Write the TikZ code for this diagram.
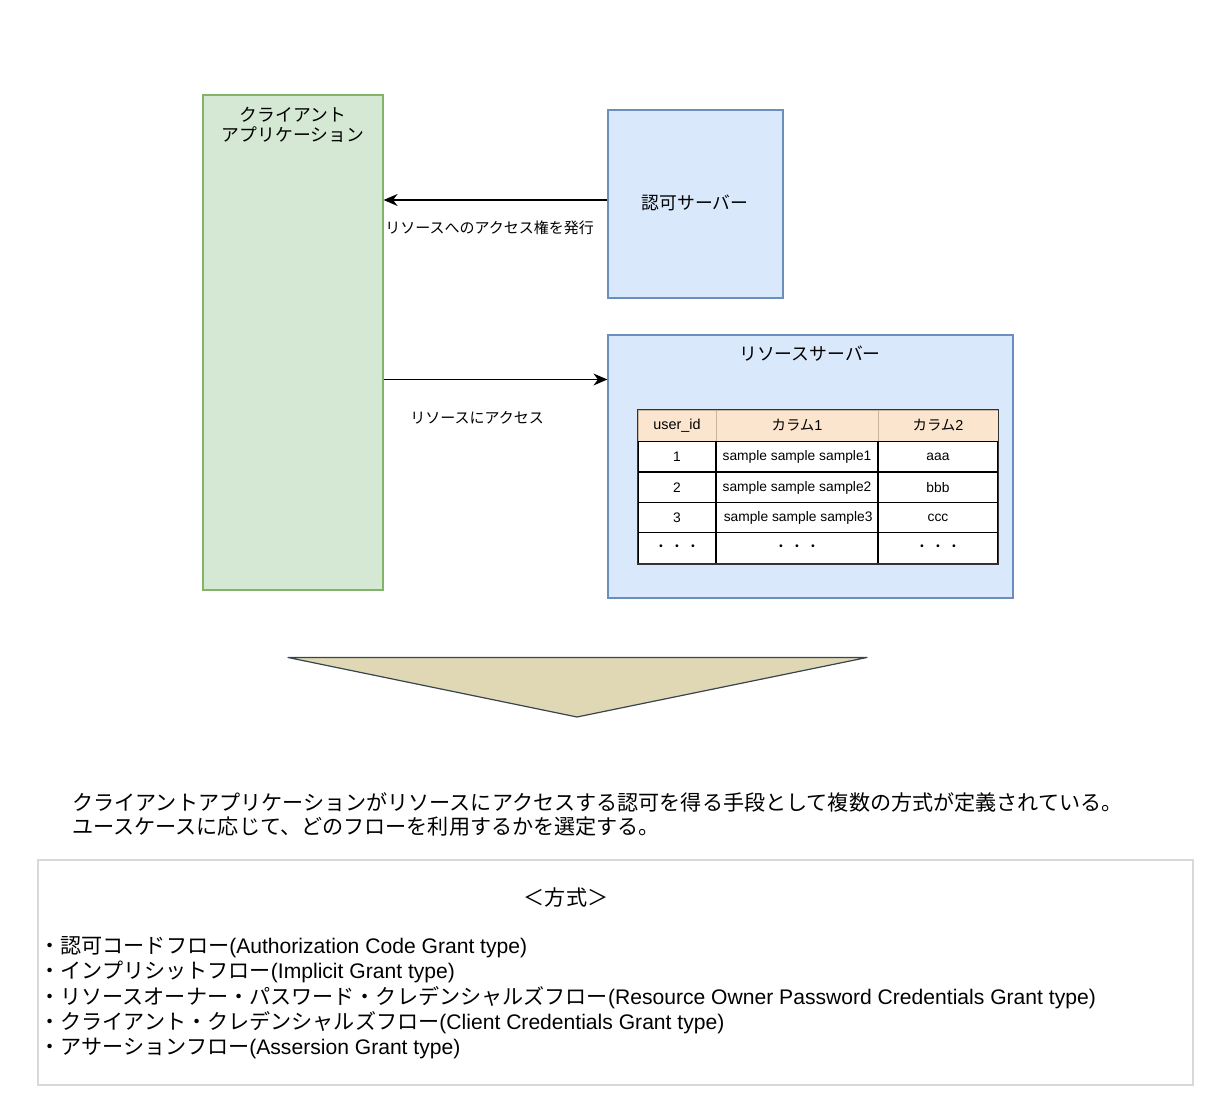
\documentclass[tikz,border=0pt]{standalone}
\usepackage{fontspec}
\setmainfont{Liberation Sans}
\newfontfamily\jp{Noto Sans CJK JP}
\usetikzlibrary{arrows.meta}

\definecolor{clientfill}{HTML}{D5E8D4}
\definecolor{clientdraw}{HTML}{82B366}
\definecolor{serverfill}{HTML}{DAE8FC}
\definecolor{serverdraw}{HTML}{6C8EBF}
\definecolor{headfill}{HTML}{FCE5CF}
\definecolor{headdraw}{HTML}{C9B49C}
\definecolor{trifill}{HTML}{E0D8B4}
\definecolor{tridraw}{HTML}{36454F}
\definecolor{boxdraw}{HTML}{D9D9D9}

\begin{document}
\begin{tikzpicture}[x=0.5pt,y=-0.5pt]
% styles for the boxes and the table
\tikzstyle{client box}=[rectangle,draw=clientdraw,fill=clientfill,line width=0.6pt,inner sep=0,minimum width=90pt,minimum height=247.5pt]
\tikzstyle{server box}=[rectangle,draw=serverdraw,fill=serverfill,line width=0.6pt,inner sep=0]
\tikzstyle{head cell}=[rectangle,draw=headdraw,fill=headfill,inner sep=0,minimum height=15.5pt,font=\fontsize{7.2}{8}\selectfont]
\tikzstyle{body cell}=[rectangle,draw=black,fill=white,line width=0.6pt,inner sep=0,minimum height=15.2pt,font=\fontsize{6.9}{8}\selectfont]
\tikzset{
jp label/.style={inner sep=0,font=\jp\fontsize{8.9}{11}\selectfont,align=center},
small label/.style={inner sep=0,font=\jp\fontsize{7.5}{9}\selectfont},
big text/.style={inner sep=0,anchor=west,font=\fontsize{10.55}{12.5}\selectfont},
arrow line/.style={line width=0.6pt,-{Stealth[length=7pt,width=6pt]}}
}
\useasboundingbox (0,0) rectangle (1228,1117);

% client and servers
\node[client box] (client) at (293,342.5) {};
\node[jp label] (clientname) at (293,125) {クライアント\\[-1pt]アプリケーション};
\node[server box,minimum width=87.5pt,minimum height=94pt] (auth) at (695.5,204) {};
\node[jp label] (authname) at (695,203) {認可サーバー};
\node[server box,minimum width=202.5pt,minimum height=131.5pt] (resource) at (810.5,466.5) {};
\node[jp label] (resourcename) at (810,354) {リソースサーバー};

% arrows between client and servers
\coordinate (grant) at (500,200);
\coordinate (access) at (500,379.5);
\draw[arrow line] (auth.west |- grant) -- (client.east |- grant);
\node[small label,anchor=west] (grantlabel) at (385,228) {リソースへのアクセス権を発行};
\draw[arrow line] (client.east |- access) -- (resource.west |- access);
\node[small label] (accesslabel) at (477,418) {リソースにアクセス};

% table in the resource server
\node[head cell,minimum width=39pt] (h1) at (677,425.5) {user\_id};
\node[head cell,minimum width=81pt] (h2) at (797,425.5) {{\jp カラム}1};
\node[head cell,minimum width=60pt] (h3) at (938,425.5) {{\jp カラム}2};
\node[body cell,minimum width=39pt] (r11) at (677,456.5) {1};
\node[body cell,minimum width=81pt] (r12) at (797,456.5) {sample sample sample1};
\node[body cell,minimum width=60pt] (r13) at (938,456.5) {aaa};
\node[body cell,minimum width=39pt] (r21) at (677,487.5) {2};
\node[body cell,minimum width=81pt] (r22) at (797,487.5) {sample sample sample2};
\node[body cell,minimum width=60pt] (r23) at (938,487.5) {bbb};
\node[body cell,minimum width=39pt] (r31) at (677,518) {3};
\node[body cell,minimum width=81pt] (r32) at (797,518) {\,sample sample sample3};
\node[body cell,minimum width=60pt] (r33) at (938,518) {ccc};
\node[body cell,minimum width=39pt] (r41) at (677,548) {{\jp ・}\,{\jp ・}\,{\jp ・}};
\node[body cell,minimum width=81pt] (r42) at (797,548) {{\jp ・}\,{\jp ・}\,{\jp ・}};
\node[body cell,minimum width=60pt] (r43) at (938,548) {{\jp ・}\,{\jp ・}\,{\jp ・}};
\draw[line width=0.8pt,draw=black!80] (h1.north west) rectangle (r43.south east);

% down arrow
\coordinate (triLeft) at (288,657.5);
\coordinate (triRight) at (867,657.5);
\coordinate (triTip) at (577,717);
\draw[fill=trifill,draw=tridraw,line width=0.6pt,line join=round] (triLeft) -- (triRight) -- (triTip) -- cycle;

% explanation
\node[big text] (line1) at (72,802) {\jp クライアントアプリケーションがリソースにアクセスする認可を得る手段として複数の方式が定義されている。};
\node[big text] (line2) at (72,827) {\jp ユースケースに応じて、どのフローを利用するかを選定する。};

% list of the grant types
\node[rectangle,draw=boxdraw,line width=0.6pt,minimum width=577.5pt,minimum height=112.5pt,inner sep=0] (types) at (615.5,972.5) {};
\node[big text,anchor=center] (typestitle) at (566,897) {\jp ＜方式＞};
\node[big text] (t1) at (39,947) {{\jp ・認可コードフロー}(Authorization Code Grant type)};
\node[big text] (t2) at (39,972) {{\jp ・インプリシットフロー}(Implicit Grant type)};
\node[big text] (t3) at (39,997.5) {{\jp ・リソースオーナー・パスワード・クレデンシャルズフロー}(Resource Owner Password Credentials Grant type)};
\node[big text] (t4) at (39,1023) {{\jp ・クライアント・クレデンシャルズフロー}(Client Credentials Grant type)};
\node[big text] (t5) at (39,1048) {{\jp ・アサーションフロー}(Assersion Grant type)};
\end{tikzpicture}
\end{document}
